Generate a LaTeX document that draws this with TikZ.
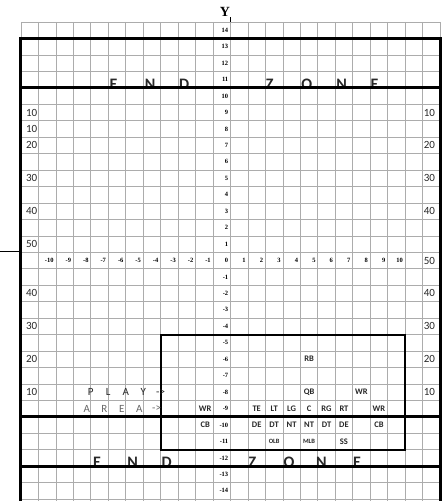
\documentclass[tikz,border=0pt]{standalone}
\usepackage{fontspec}
\setmainfont{Liberation Serif}
\newfontfamily\carlito{Carlito}
\usetikzlibrary{positioning}
\definecolor{gridgray}{RGB}{172,172,172}
\definecolor{ink}{RGB}{40,40,40}

\begin{document}
\begin{tikzpicture}[
  x=17.46pt, y=16.45pt,
  gridln/.style={draw=gridgray,line width=0.7pt},
  field/.style={line width=3pt,line cap=rect},
  playbox/.style={line width=2pt,line cap=rect},
  axnum/.style={anchor=east,inner sep=0pt,font=\bfseries\fontsize{6.5}{7}\selectfont},
  yard/.style={inner sep=0pt,text=ink,font=\carlito\fontsize{11}{12}\selectfont},
  player/.style={inner sep=0pt,text=ink,font=\carlito\bfseries\fontsize{8.5}{10}\selectfont},
  playersm/.style={player,font=\carlito\bfseries\fontsize{6.5}{8}\selectfont},
  ezone/.style={anchor=base,inner sep=0pt,text=ink,font=\carlito\bfseries\fontsize{16}{18}\selectfont}
]
\useasboundingbox (-230.5pt,-232.25pt) rectangle (211.5pt,268.75pt);

% grid
\foreach \x in {-12,...,12}
  \draw[gridln] (\x,15) -- (\x,-14.12);
\foreach \y in {-14,...,15}
  \draw[gridln] (-12,\y) -- (12,\y);

% end zone letters, cut at the goal lines
\begin{scope}
  \clip (-12,11) rectangle (12,14);
  \foreach \c/\x [count=\i] in {E/-6.7,N/-4.6,D/-2.65,Z/2.25,O/4.37,N/6.37,E/8.25}
    \node[ezone] (eztop\i) at (\x,10.91) {\c};
\end{scope}
\begin{scope}
  \clip (-12,-12) rectangle (12,-11);
  \foreach \c/\x [count=\i] in {E/-7.65,N/-5.6,D/-3.65,Z/1.25,O/3.35,N/5.2,E/7.25}
    \node[ezone] (ezbot\i) at (\x,-12.1) {\c};
\end{scope}

% field and play area
\draw[field] (-12,-14.12) -- (-12,14) -- (12,14) -- (12,-14.12);
\foreach \y in {11,-9,-12}
  \draw[field] (-12,\y) -- (12,\y);
\draw[playbox] (-4,-4) rectangle (10,-11);

% axes
\node[font=\bfseries\fontsize{14}{16}\selectfont,inner sep=0pt] (ylab) at (-0.32,15.62) {Y};
\coordinate (ytop) at (0,15.3);
\draw[line width=0.6pt] (0,15) -- (ytop);
\coordinate (xstub) at (-13.2,1.05);
\coordinate (fieldL) at (-12,1.05);
\draw[line width=0.6pt] (xstub) -- (fieldL);
\foreach \v in {-14,...,14}
  \node[axnum] (ynum\v) at (-0.12,\v+0.5) {\v};
\foreach \v in {-10,...,-1,1,2,...,10}
  \node[axnum] (xnum\v) at (\v-0.12,0.5) {\v};

% yard numbers
\foreach \t/\r [count=\i] in {10/9,10/8,20/7,30/5,40/3,50/1,40/-2,30/-4,20/-6,10/-8}
  \node[yard,anchor=west] (ydl\i) at (-11.72,\r+0.5) {\t};
\foreach \t/\r [count=\i] in {10/9,20/7,30/5,40/3,50/0,40/-2,30/-4,20/-6,10/-8}
  \node[yard,anchor=east] (ydr\i) at (11.72,\r+0.5) {\t};

% play area pointer
\foreach \c [count=\i] in {P,L,A,Y,-{}>}
  \node[yard] (play\i) at (-9+\i,-7.5) {\c};
\foreach \c [count=\i] in {A,R,E,A,-{}>}
  \node[yard,text=black!60] (area\i) at (-9.23+\i,-8.5) {\c};

% players
\foreach \p/\x/\r [count=\i] in {RB/4.5/-6,QB/4.5/-8,WR/7.5/-8,
    WR/-1.45/-9,TE/1.5/-9,LT/2.5/-9,LG/3.5/-9,C/4.5/-9,RG/5.5/-9,RT/6.5/-9,WR/8.5/-9,
    CB/-1.45/-10,DE/1.5/-10,DT/2.5/-10,NT/3.5/-10,NT/4.5/-10,DT/5.5/-10,DE/6.5/-10,CB/8.5/-10,
    SS/6.5/-11}
  \node[player] (pl\i) at (\x,\r+0.5) {\p};
\node[playersm] (olb) at (2.5,-10.5) {OLB};
\node[playersm] (mlb) at (4.5,-10.5) {MLB};
\end{tikzpicture}
\end{document}
